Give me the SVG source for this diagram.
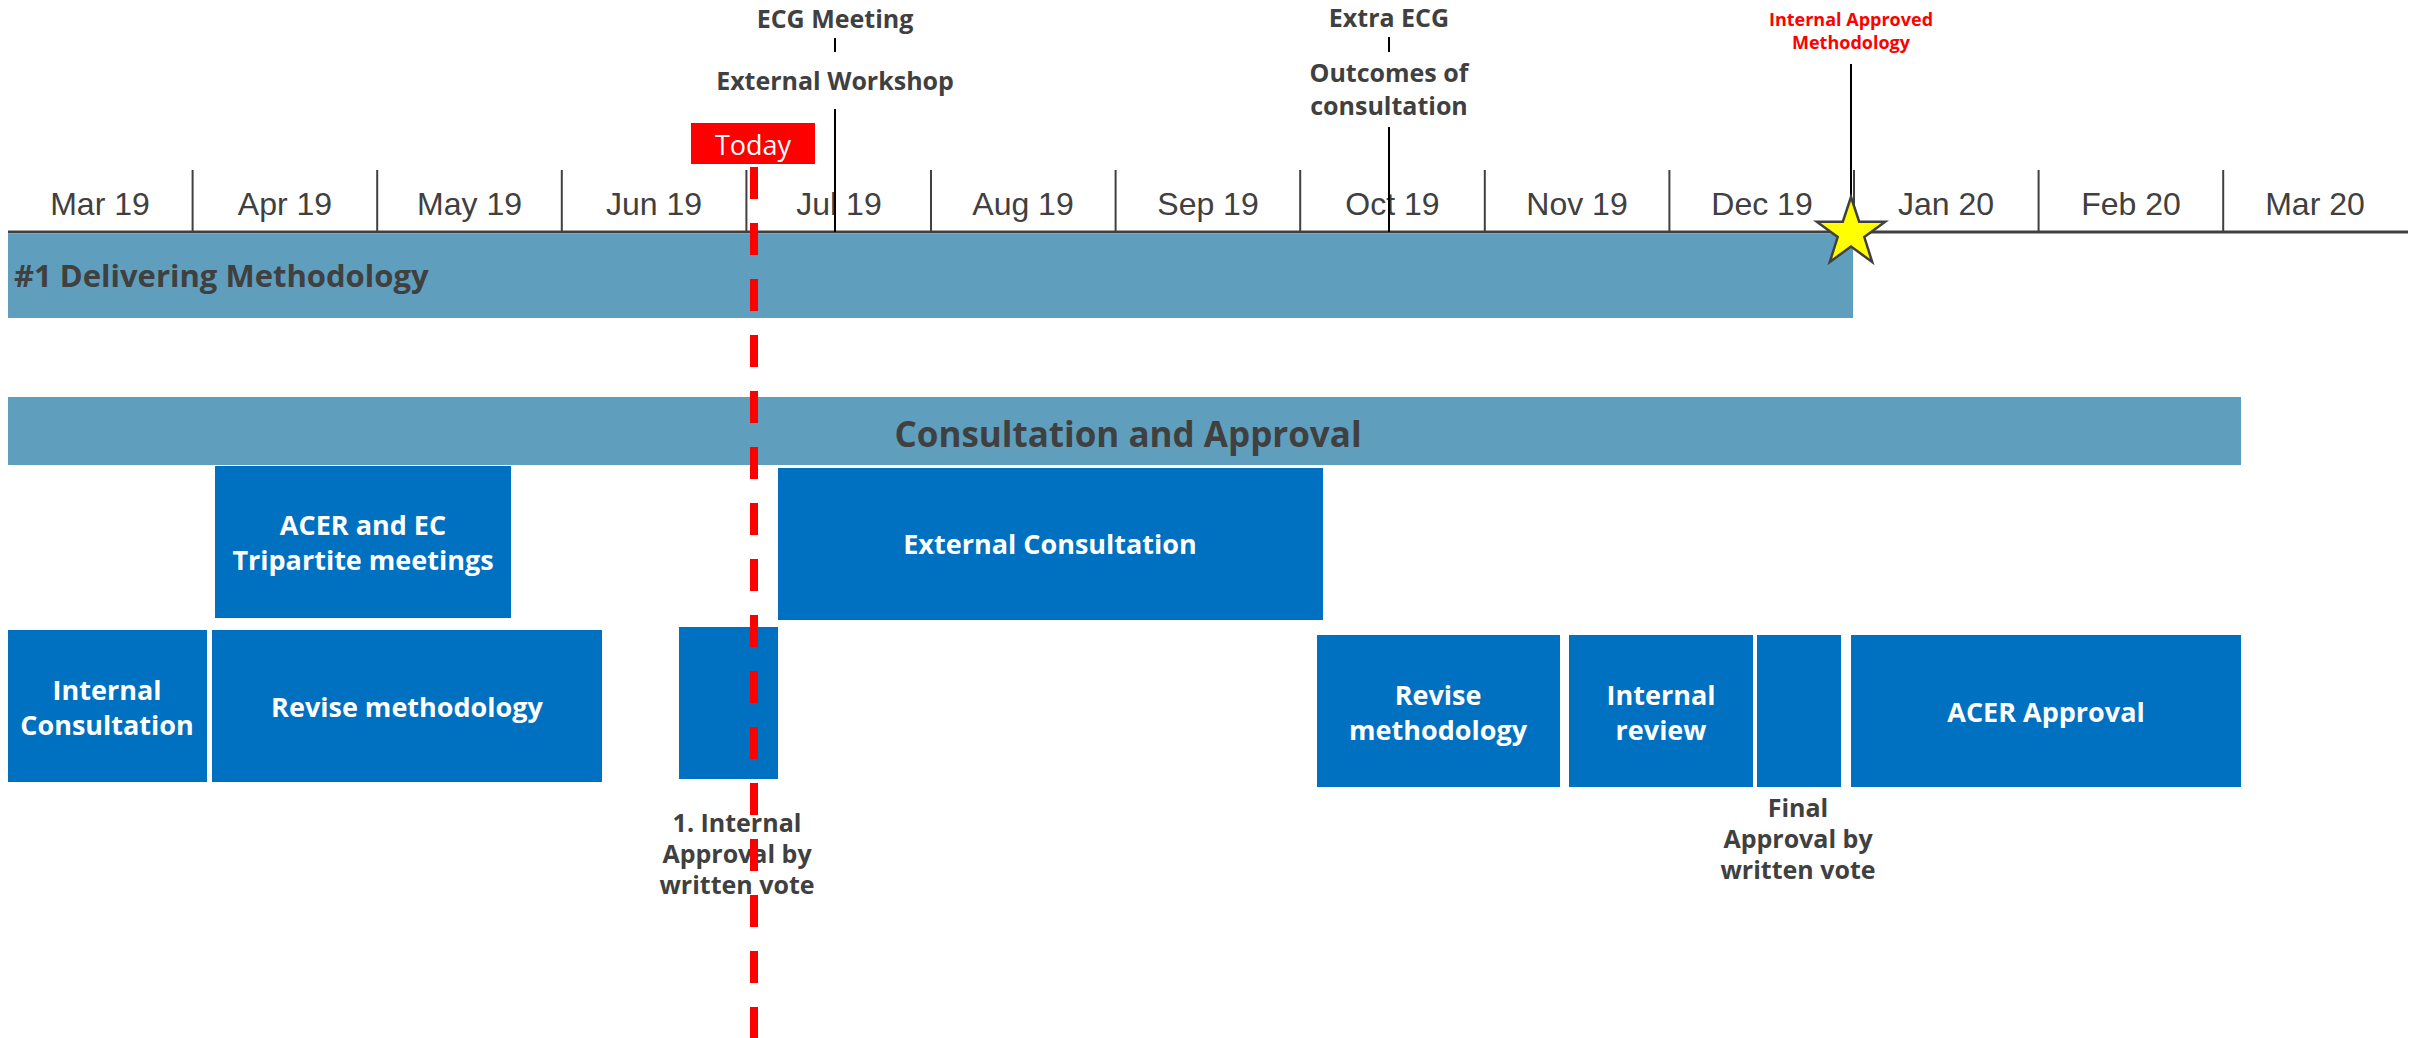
<svg xmlns="http://www.w3.org/2000/svg" width="2415" height="1038" viewBox="0 0 2415 1038">
<style>
.month{font-family:"Liberation Sans",Arial,sans-serif;font-size:32px;fill:#404040;text-anchor:middle}
.tick{stroke:#404040;stroke-width:2}
.ms{font-family:"Open Sans","Noto Sans",sans-serif;font-weight:bold;font-size:25px;fill:#404040;text-anchor:middle}
.msr{font-family:"Open Sans","Noto Sans",sans-serif;font-weight:bold;font-size:18px;fill:#FF0000;text-anchor:middle}
.mline{stroke:#000;stroke-width:2}
.box{fill:#0070C0}
.bt{font-family:"Open Sans","Noto Sans",sans-serif;font-weight:bold;font-size:27px;fill:#FFFFFF;text-anchor:middle}
.lbl{font-family:"Open Sans","Noto Sans",sans-serif;font-weight:bold;font-size:25px;fill:#404040;text-anchor:middle}
.band{fill:#5F9EBC}
</style>
<rect width="2415" height="1038" fill="#FFFFFF"/>

<g id="timeline">
<line x1="8" y1="232" x2="2408" y2="232" stroke="#404040" stroke-width="3"/>
<line class="tick" x1="192.6" y1="170" x2="192.6" y2="232"/>
<line class="tick" x1="377.2" y1="170" x2="377.2" y2="232"/>
<line class="tick" x1="561.8" y1="170" x2="561.8" y2="232"/>
<line class="tick" x1="746.4" y1="170" x2="746.4" y2="232"/>
<line class="tick" x1="931" y1="170" x2="931" y2="232"/>
<line class="tick" x1="1115.6" y1="170" x2="1115.6" y2="232"/>
<line class="tick" x1="1300.2" y1="170" x2="1300.2" y2="232"/>
<line class="tick" x1="1484.8" y1="170" x2="1484.8" y2="232"/>
<line class="tick" x1="1669.4" y1="170" x2="1669.4" y2="232"/>
<line class="tick" x1="1854" y1="170" x2="1854" y2="232"/>
<line class="tick" x1="2038.6" y1="170" x2="2038.6" y2="232"/>
<line class="tick" x1="2223.2" y1="170" x2="2223.2" y2="232"/>
<text class="month" x="100" y="215">Mar 19</text>
<text class="month" x="285" y="215">Apr 19</text>
<text class="month" x="469.5" y="215">May 19</text>
<text class="month" x="654" y="215">Jun 19</text>
<text class="month" x="839" y="215">Jul 19</text>
<text class="month" x="1023" y="215">Aug 19</text>
<text class="month" x="1208" y="215">Sep 19</text>
<text class="month" x="1392.5" y="215">Oct 19</text>
<text class="month" x="1577" y="215">Nov 19</text>
<text class="month" x="1762" y="215">Dec 19</text>
<text class="month" x="1946" y="215">Jan 20</text>
<text class="month" x="2131" y="215">Feb 20</text>
<text class="month" x="2315" y="215">Mar 20</text>
</g>

<g id="connectors">
<line class="mline" x1="835" y1="38" x2="835" y2="52"/>
<line class="mline" x1="835" y1="109" x2="835" y2="232"/>
<line class="mline" x1="1389" y1="37" x2="1389" y2="52"/>
<line class="mline" x1="1389" y1="127" x2="1389" y2="232"/>
<line class="mline" x1="1851" y1="64" x2="1851" y2="232"/>
</g>

<g id="ecg-meeting"><text class="ms" x="835" y="28">ECG Meeting</text></g>
<g id="external-workshop"><text class="ms" x="835" y="90">External Workshop</text></g>
<g id="extra-ecg"><text class="ms" x="1389" y="27">Extra ECG</text></g>
<g id="outcomes"><text class="ms" x="1389" y="82">Outcomes of</text><text class="ms" x="1389" y="115">consultation</text></g>
<g id="internal-approved"><text class="msr" x="1851" y="26">Internal Approved</text><text class="msr" x="1851" y="49">Methodology</text></g>

<g id="delivering-methodology">
<rect class="band" x="8" y="234" width="1845" height="84"/>
<text x="14" y="287" font-family="'Open Sans','Noto Sans',sans-serif" font-weight="bold" font-size="31" fill="#404040">#1 Delivering Methodology</text>
</g>

<g id="consultation-approval">
<rect class="band" x="8" y="397" width="2233" height="68"/>
<text x="1128" y="447" font-family="'Open Sans','Noto Sans',sans-serif" font-weight="bold" font-size="35" fill="#404040" text-anchor="middle">Consultation and Approval</text>
</g>

<g id="acer-ec-tripartite">
<rect class="box" x="215" y="466" width="296" height="152"/>
<text class="bt" x="363" y="535">ACER and EC</text>
<text class="bt" x="363" y="570">Tripartite meetings</text>
</g>
<g id="external-consultation">
<rect class="box" x="778" y="468" width="545" height="152"/>
<text class="bt" x="1050" y="554">External Consultation</text>
</g>
<g id="internal-consultation">
<rect class="box" x="8" y="630" width="199" height="152"/>
<text class="bt" x="107" y="700">Internal</text>
<text class="bt" x="107" y="735">Consultation</text>
</g>
<g id="revise-methodology-1">
<rect class="box" x="212" y="630" width="390" height="152"/>
<text class="bt" x="407" y="717">Revise methodology</text>
</g>
<g id="internal-approval-1">
<rect class="box" x="679" y="627" width="99" height="152"/>
<text class="lbl" x="737" y="832">1. Internal</text>
<text class="lbl" x="737" y="863">Approval by</text>
<text class="lbl" x="737" y="894">written vote</text>
</g>
<g id="revise-methodology-2">
<rect class="box" x="1317" y="635" width="243" height="152"/>
<text class="bt" x="1438" y="705">Revise</text>
<text class="bt" x="1438" y="740">methodology</text>
</g>
<g id="internal-review">
<rect class="box" x="1569" y="635" width="184" height="152"/>
<text class="bt" x="1661" y="705">Internal</text>
<text class="bt" x="1661" y="740">review</text>
</g>
<g id="final-approval">
<rect class="box" x="1757" y="635" width="84" height="152"/>
<text class="lbl" x="1798" y="817">Final</text>
<text class="lbl" x="1798" y="848">Approval by</text>
<text class="lbl" x="1798" y="879">written vote</text>
</g>
<g id="acer-approval">
<rect class="box" x="1851" y="635" width="390" height="152"/>
<text class="bt" x="2046" y="722">ACER Approval</text>
</g>

<g id="today">
<line x1="754" y1="167" x2="754" y2="1038" stroke="#FF0000" stroke-width="8" stroke-dasharray="32 24"/>
<rect x="691" y="123" width="124" height="41" fill="#FF0000"/>
<text x="753" y="155" font-family="'Open Sans','Noto Sans',sans-serif" font-size="27" fill="#FFFFFF" text-anchor="middle">Today</text>
</g>

<g id="milestone-star">
<polygon points="1851,197 1859.2,221.7 1885.2,221.8 1864.3,237.1 1872.2,261.9 1851,246.6 1829.8,261.9 1837.7,237.1 1816.8,221.8 1842.8,221.7" fill="#FFFF00" stroke="#404040" stroke-width="2.5" stroke-linejoin="miter"/>
</g>
</svg>
